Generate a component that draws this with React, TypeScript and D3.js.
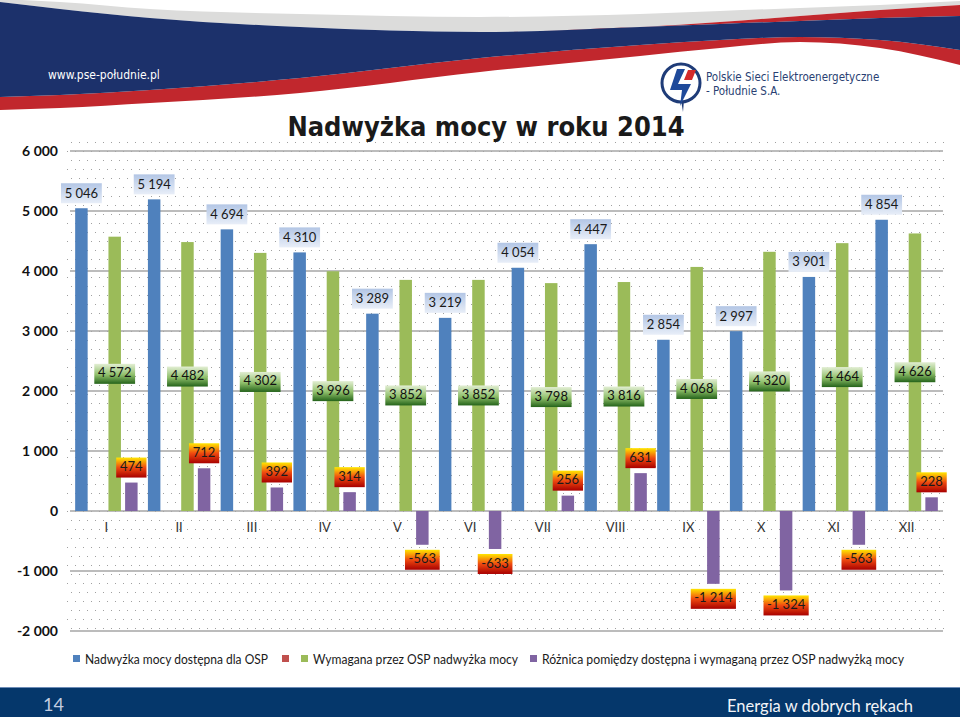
import React from "react";
import * as d3 from "d3";

const categories = ["I", "II", "III", "IV", "V", "VI", "VII", "VIII", "IX", "X", "XI", "XII"];
const available = [5046, 5194, 4694, 4310, 3289, 3219, 4054, 4447, 2854, 2997, 3901, 4854];
const required = [4572, 4482, 4302, 3996, 3852, 3852, 3798, 3816, 4068, 4320, 4464, 4626];
const difference = [474, 712, 392, 314, -563, -633, 256, 631, -1214, -1324, -563, 228];
const yTicks = [-2000, -1000, 0, 1000, 2000, 3000, 4000, 5000, 6000];
const seriesKeys = ["available", "empty", "required", "difference"];
const legendItems = [
  { key: "available", label: "Nadwyżka mocy dostępna dla OSP", color: "#4f81bd", x: 73, len: 183 },
  { key: "empty", label: "", color: "#c0504d", x: 282, len: 0 },
  { key: "required", label: "Wymagana przez OSP nadwyżka mocy", color: "#9bbb59", x: 301, len: 205 },
  { key: "difference", label: "Różnica pomiędzy dostępna i wymaganą przez OSP nadwyżką mocy", color: "#8064a2", x: 530, len: 362 },
];

// header decoration outline
const hx = [0, 60, 150, 300, 480, 640, 720, 800, 880, 960];
const grayTop = [-1, 2, 9, 14, 17, 14, 11, 8, 5, 1];
const red1Top = [2, 9, 18, 27, 32, 27, 22, 16, 10, 5];
const blueTop = [2, 9, 18, 27, 32, 27, 24, 21, 18, 16];
const blueBot = [97, 95, 90, 78, 58, 45, 40, 37, 40, 50];
const red2Bot = [110, 108, 103, 93, 72, 56, 48, 42, 48, 65];

const W = 960;
const H = 717;
const FONT = "Lato, 'Open Sans', sans-serif";
const COND = "'DejaVu Sans Condensed', 'DejaVu Sans', sans-serif";

const locale = d3.formatLocale({ decimal: ",", thousands: " ", grouping: [3], currency: ["", ""], minus: "-" });
const fmt = locale.format(",d");

const textW = (s: string) => {
  let w = 0;
  for (const c of s) w += c === " " ? 3.4 : c === "-" ? 4.4 : 7.1;
  return w + 9;
};

export default function App() {
  const x0 = d3.scaleBand<string>().domain(categories).range([70, 943]).paddingInner(0).paddingOuter(0);
  const x1 = d3.scaleBand<string>().domain(seriesKeys).range([0, x0.step()]).paddingInner(0.25).paddingOuter(0.31);
  const y = d3.scaleLinear().domain([-2000, 6000]).range([631, 151]);
  const bw = x1.bandwidth();

  const band = (top: number[], bot: number[]) =>
    d3
      .area<number>()
      .x((i) => hx[i])
      .y0((i) => top[i])
      .y1((i) => bot[i])
      .curve(d3.curveMonotoneX)(hx.map((_, i) => i)) || "";

  const boxH = 20;

  return (
    <svg width={W} height={H} style={{ position: "absolute", left: 0, top: 0, display: "block", background: "#fff" }}>
      <defs>
        <pattern id="dots" width="8" height="18" patternUnits="userSpaceOnUse" x="70" y="141">
          <rect x="1" y="1" width="1" height="1" fill="#a0a0a0" />
          <rect x="5" y="10" width="1" height="1" fill="#a0a0a0" />
        </pattern>
        <linearGradient id="gBlue" x1="0" y1="0" x2="0" y2="1">
          <stop offset="0" stopColor="#b3c6e5" />
          <stop offset="1" stopColor="#e8eef8" />
        </linearGradient>
        <linearGradient id="gGreen" x1="0" y1="0" x2="0" y2="1">
          <stop offset="0" stopColor="#e2eed3" />
          <stop offset="0.55" stopColor="#8fbf6a" />
          <stop offset="1" stopColor="#24631a" />
        </linearGradient>
        <linearGradient id="gRed" x1="0" y1="0" x2="0" y2="1">
          <stop offset="0" stopColor="#ffe600" />
          <stop offset="0.5" stopColor="#f04a10" />
          <stop offset="1" stopColor="#a80000" />
        </linearGradient>
      </defs>

      {/* header */}
      <rect x={0} y={0} width={W} height={H} fill="#fff" />
      <path d={band(grayTop, red1Top)} fill="#dcdcdb" />
      <path d={band(red1Top, blueTop)} fill="#c1272d" />
      <path d={band(blueBot, red2Bot)} fill="#c1272d" />
      <path d={band(blueTop, blueBot)} fill="#1c316b" />
      <text x={48} y={79} fill="#fff" fontFamily={COND} fontSize={12}>
        www.pse-południe.pl
      </text>

      {/* logo */}
      <g>
        <path d="M681,100 L683,112 L684,100 Z" fill="#1f3c78" />
        <circle cx={681} cy={83} r={19} fill="#fff" stroke="#1f3c78" strokeWidth={3} />
        <polygon points="677,69 685,69 678,84 691,84 680,106 682,90 670,90" fill="#1f4a9a" />
        <polygon points="688,70 696,70 692,80 684,80" fill="#d42a2a" />
        <text x={706} y={81} fill="#2a3f73" fontFamily={COND} fontSize={11.5}>
          Polskie Sieci Elektroenergetyczne
        </text>
        <text x={706} y={95} fill="#2a3f73" fontFamily={COND} fontSize={11.5}>
          - Południe S.A.
        </text>
      </g>

      {/* plot area pattern */}
      <rect x={66} y={138} width={880} height={496} fill="url(#dots)" />

      {/* title */}
      <text x={486} y={136} textAnchor="middle" fontFamily={COND} fontWeight="bold" fontSize={27} fill="#1a1a1a">
        Nadwyżka mocy w roku 2014
      </text>

      {/* grid + y labels */}
      {yTicks.map((t) => (
        <g key={t}>
          <line x1={70} x2={943} y1={y(t)} y2={y(t)} stroke="#a6a6a6" strokeWidth={1.3} />
          <text x={58} y={y(t)} dy="0.35em" textAnchor="end" fontFamily={FONT} fontWeight="bold" fontSize={14} fill="#111">
            {fmt(t)}
          </text>
        </g>
      ))}

      {/* category labels */}
      {categories.map((c) => (
        <text key={c} x={(x0(c) || 0) + x0.step() / 2} y={532} textAnchor="middle" fontFamily={FONT} fontSize={13} fill="#333">
          {c}
        </text>
      ))}

      {/* bars */}
      {categories.map((c, i) => {
        const cx = x0(c) || 0;
        const xa = cx + (x1("available") || 0);
        const xr = cx + (x1("required") || 0);
        const xd = cx + (x1("difference") || 0);
        const d = difference[i];
        return (
          <g key={c}>
            <rect x={xa} y={y(available[i])} width={bw} height={y(0) - y(available[i])} fill="#4f81bd" />
            <rect x={xr} y={y(required[i])} width={bw} height={y(0) - y(required[i])} fill="#9bbb59" />
            <rect x={xd} y={Math.min(y(d), y(0))} width={bw} height={Math.abs(y(d) - y(0))} fill="#8064a2" />
          </g>
        );
      })}

      {/* labels */}
      {categories.map((c, i) => {
        const cx = x0(c) || 0;
        const ca = cx + (x1("available") || 0) + bw / 2;
        const cr = cx + (x1("required") || 0) + bw / 2;
        const cd = cx + (x1("difference") || 0) + bw / 2;
        const la = fmt(available[i]);
        const lr = fmt(required[i]);
        const ld = fmt(difference[i]);
        const wa = textW(la);
        const wr = textW(lr);
        const wd = textW(ld);
        const ya = y(available[i]) - 5 - boxH;
        const yr = y(required[i] / 2) - boxH / 2;
        const d = difference[i];
        const yd = d >= 0 ? y(d) - 5 - boxH : y(d) + 5;
        return (
          <g key={c} fontFamily={FONT} fontSize={13}>
            <rect x={ca - wa / 2} y={ya} width={wa} height={boxH} fill="url(#gBlue)" />
            <text x={ca} y={ya + boxH / 2} dy="0.35em" textAnchor="middle" fill="#1a1a1a">{la}</text>
            <rect x={cr - wr / 2} y={yr} width={wr} height={boxH} fill="url(#gGreen)" />
            <text x={cr} y={yr + boxH / 2 - 1} dy="0.35em" textAnchor="middle" fill="#111">{lr}</text>
            <rect x={cd - wd / 2} y={yd} width={wd} height={boxH} fill="url(#gRed)" />
            <text x={cd} y={yd + boxH / 2 - 1} dy="0.35em" textAnchor="middle" fill="#1a1a1a">{ld}</text>
          </g>
        );
      })}

      {/* legend */}
      {legendItems.map((it) => (
        <g key={it.key}>
          <rect x={it.x} y={655} width={7} height={7} fill={it.color} />
          {it.label && (
            <text x={it.x + 12} y={659} dy="0.35em" fontFamily={FONT} fontSize={13} fill="#1a1a1a" textLength={it.len} lengthAdjust="spacingAndGlyphs">
              {it.label}
            </text>
          )}
        </g>
      ))}

      {/* footer */}
      <rect x={0} y={687} width={W} height={30} fill="#05376b" />
      <line x1={0} x2={W} y1={687.5} y2={687.5} stroke="#6d8cb6" strokeWidth={1} />
      <text x={43} y={711} fontFamily={FONT} fontSize={18} fill="#c3cde0">14</text>
      <text x={913} y={712} textAnchor="end" fontFamily={FONT} fontSize={16.5} fill="#f2f4f8">
        Energia w dobrych rękach
      </text>
    </svg>
  );
}
